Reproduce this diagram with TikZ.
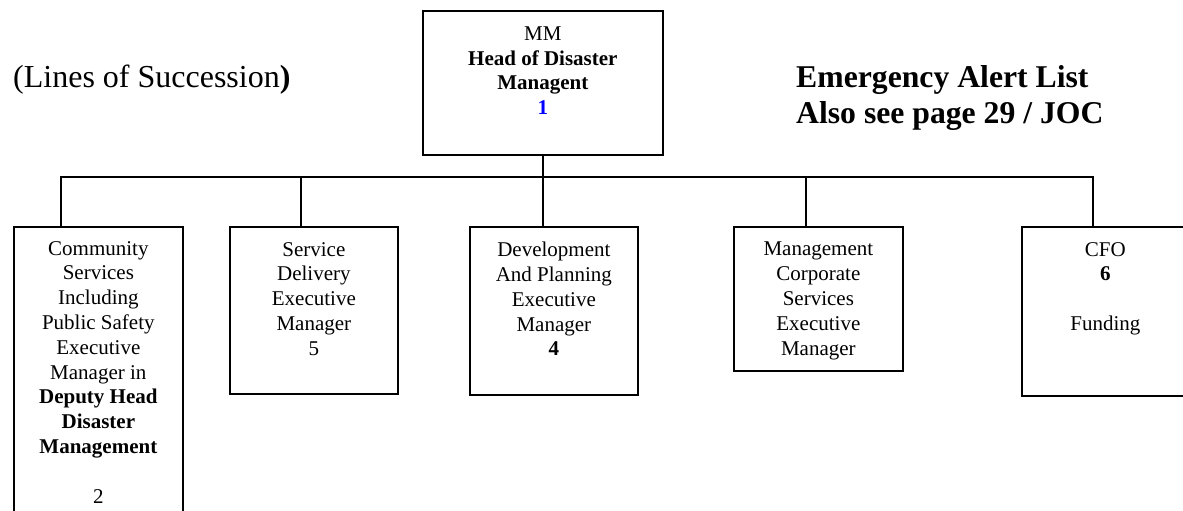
\documentclass[tikz,border=0pt]{standalone}
\usepackage{fontspec}
\setmainfont{Liberation Serif}
\begin{document}
\begin{tikzpicture}[x=1pt,y=1pt,
  box/.style={draw, line width=1.7pt, inner sep=0pt, anchor=north west},
  txt/.style={inner sep=0pt, anchor=north, align=center, font=\fontsize{21}{24.8}\selectfont},
  conn/.style={line width=1.7pt},
  hdr/.style={inner sep=0pt}]
\useasboundingbox (0,0) rectangle (1183,-511);
% top box
\node[box, minimum width=240pt, minimum height=144pt] (mm) at (422,-10) {};
\node[txt, font=\fontsize{21}{24.5}\selectfont] (mmt) at ([yshift=-17pt]mm.north)
  {MM\\\textbf{Head of Disaster}\\\textbf{Managent}\\\textcolor{blue}{\textbf{1}}};
% headers
\node[hdr, anchor=base west, font=\fontsize{32}{36}\selectfont] (los) at (13,-88) {(Lines of Succession\textbf{)}};
\node[hdr, anchor=north west, align=left, font=\bfseries\fontsize{31.7}{36}\selectfont] (eal) at (796,-65.6)
  {Emergency Alert List\\Also see page 29 / JOC};
% boxes
\node[box, minimum width=169pt, minimum height=330pt] (cs) at (13,-226) {};
\node[box, minimum width=168pt, minimum height=167pt] (sd) at (229,-226) {};
\node[box, minimum width=168pt, minimum height=168pt] (dp) at (469,-226) {};
\node[box, minimum width=169pt, minimum height=144pt] (mc) at (733,-226) {};
\node[box, minimum width=167pt, minimum height=169pt] (cfo) at (1021,-226) {};
% texts
\node[txt] (cst) at ([yshift=-15pt]cs.north)
  {Community\\Services\\Including\\Public Safety\\Executive\\Manager in\\\textbf{Deputy Head}\\\textbf{Disaster}\\\textbf{Management}\\[24.8pt]2};
\node[txt] (sdt) at ([yshift=-16pt]sd.north) {Service\\Delivery\\Executive\\Manager\\5};
\node[txt] (dpt) at ([yshift=-16pt]dp.north) {Development\\And Planning\\Executive\\Manager\\\textbf{4}};
\node[txt] (mct) at ([yshift=-16pt]mc.north) {Management\\Corporate\\Services\\Executive\\Manager};
\node[txt] (cfot) at ([yshift=-16pt]cfo.north) {CFO\\\textbf{6}\\[24.8pt]Funding};
% connectors
\coordinate (bl) at (61,-177);
\coordinate (br) at (1093,-177);
\coordinate (b2) at (301,-177);
\coordinate (b4) at (806,-177);
\draw[conn] (mm.south) -- (mm.south |- bl);
\draw[conn] (cs.north -| bl) -- (bl) -- (br) -- (cfo.north -| br);
\draw[conn] (b2) -- (b2 |- sd.north);
\draw[conn] (mm.south |- bl) -- (mm.south |- dp.north);
\draw[conn] (b4) -- (b4 |- mc.north);
\end{tikzpicture}
\end{document}
